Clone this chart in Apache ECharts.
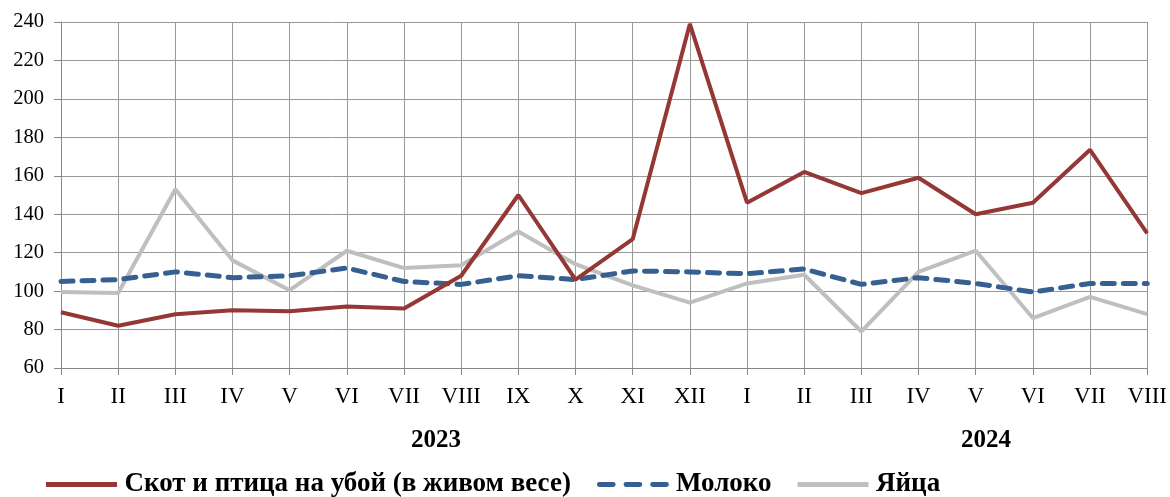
<!DOCTYPE html>
<html><head><meta charset="utf-8">
<script src="https://cdn.jsdelivr.net/npm/echarts@6/dist/echarts.min.js"></script>
<style>html,body{margin:0;padding:0;background:#fff}#c{width:1170px;height:497px}</style>
</head><body><div id="c"></div>
<script>
const categories = ['I','II','III','IV','V','VI','VII','VIII','IX','X','XI','XII','I','II','III','IV','V','VI','VII','VIII'];
const yearLabels = ['2023','2024'];
const seriesNames = ['Скот и птица на убой (в живом весе)','Молоко','Яйца'];
const livestock = [89,82,88,90,89.5,92,91,108,150,106,127,239,146,162,151,159,140,146,173.5,130];
const milk = [105,106,110,107,108,112,105,103.5,108,106,110.5,110,109,111.5,103.5,107,104,99.5,104,104];
const eggs = [99.5,99,153,116,100.5,121,112,113.5,131,114,103,94,104,108.5,79,110,121,86,97,88];

const chart = echarts.init(document.getElementById('c'));
const serif = '"Liberation Serif","Times New Roman",serif';
const solidIcon = 'path://M0,0H71V5H0Z';
const dashIcon = 'path://M2.5,0H16.5A2.5,2.5 0 0 1 16.5,5H2.5A2.5,2.5 0 0 1 2.5,0Z M29.5,0H43.5A2.5,2.5 0 0 1 43.5,5H29.5A2.5,2.5 0 0 1 29.5,0Z M56.5,0H70.5A2.5,2.5 0 0 1 70.5,5H56.5A2.5,2.5 0 0 1 56.5,0Z';
chart.setOption({
  animation:false,
  grid:{left:61,right:22,top:22,bottom:129},
  legend:{
    top:466,left:41,itemWidth:72,itemHeight:5,itemGap:26,
    textStyle:{fontFamily:serif,fontWeight:'bold',fontSize:27,color:'#000',padding:[0,0,0,2]},
    data:[
      {name:seriesNames[0],icon:solidIcon},
      {name:seriesNames[1],icon:dashIcon},
      {name:seriesNames[2],icon:solidIcon}
    ]
  },
  xAxis:{type:'category',boundaryGap:false,data:categories,
    axisLine:{lineStyle:{color:'#888',width:1}},
    axisTick:{show:true,length:7,lineStyle:{color:'#888'}},
    axisLabel:{fontFamily:serif,fontSize:23,color:'#000',margin:17,interval:0},
    splitLine:{show:true,lineStyle:{color:'#999',width:1}}
  },
  yAxis:{type:'value',min:60,max:240,interval:20,
    axisLine:{show:true,lineStyle:{color:'#888'}},
    axisTick:{show:true,length:7,lineStyle:{color:'#888'}},
    axisLabel:{fontFamily:serif,fontSize:20.5,color:'#000',margin:17},
    splitLine:{show:true,lineStyle:{color:'#999',width:1}}
  },
  graphic:[
    {type:'text',left:411,top:428,style:{text:yearLabels[0],font:'bold 25px '+serif,fill:'#000'}},
    {type:'text',left:961,top:428,style:{text:yearLabels[1],font:'bold 25px '+serif,fill:'#000'}}
  ],
  series:[
    {name:seriesNames[0],type:'line',data:livestock,showSymbol:false,symbol:'none',
     lineStyle:{color:'#953735',width:4},itemStyle:{color:'#953735'},z:3},
    {name:seriesNames[1],type:'line',data:milk,showSymbol:false,symbol:'none',
     lineStyle:{color:'#376092',width:5,type:[12,9],cap:'round'},itemStyle:{color:'#376092'},z:2},
    {name:seriesNames[2],type:'line',data:eggs,showSymbol:false,symbol:'none',
     lineStyle:{color:'#bfbfbf',width:4},itemStyle:{color:'#bfbfbf'},z:1}
  ]
});
</script></body></html>
